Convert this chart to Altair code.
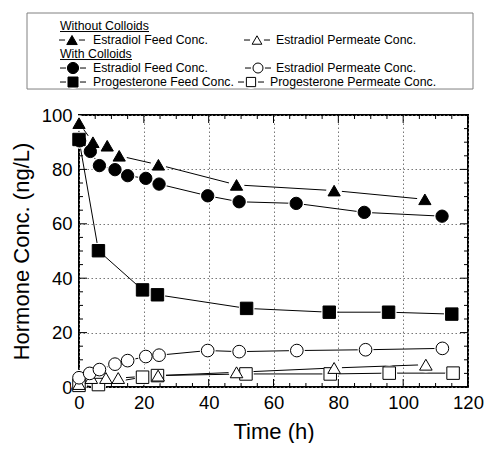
import altair as alt
import pandas as pd

# ---------------- data ----------------
# Without colloids
t_e_feed_nc = [0, 4.3, 8.7, 12.4, 24.5, 48.6, 78.7, 106.7]
e_feed_nc = [97, 90, 88.7, 85, 81.7, 74.3, 72.2, 69]
t_e_perm_nc = [0, 3.8, 8.3, 12.1, 24.4, 48.6, 78.7, 107]
e_perm_nc = [1.1, 3.3, 3.3, 3.3, 4.2, 5.4, 7.0, 8.2]
# With colloids
t_e_feed_c = [0.2, 3.5, 6.3, 11.1, 15, 20.6, 24.7, 39.7, 49.4, 67, 88, 112]
e_feed_c = [90.5, 86.6, 81.4, 79.9, 77.7, 76.7, 74.6, 70.3, 68.1, 67.5, 64.2, 62.8]
t_e_perm_c = [0, 3.3, 6.3, 11.1, 15, 20.6, 24.7, 39.7, 49.4, 67.2, 88.4, 112.1]
e_perm_c = [3.4, 5.0, 6.4, 8.4, 9.7, 11.2, 11.7, 13.4, 13.0, 13.4, 13.7, 14.2]
t_p_feed_c = [0, 6, 19.6, 24.2, 51.7, 77.2, 95.5, 115]
p_feed_c = [91, 50.1, 35.7, 33.9, 28.9, 27.5, 27.5, 26.8]
t_p_perm_c = [0, 6, 19.6, 24.2, 51.5, 77.5, 95.7, 115.4]
p_perm_c = [0.6, 0.9, 3.6, 4.2, 4.8, 4.8, 5.1, 5.1]

series_keys = ["nc_e_feed", "c_e_feed", "c_p_feed", "c_p_perm", "nc_e_perm", "c_e_perm"]
series_data = {
    "nc_e_feed": (t_e_feed_nc, e_feed_nc),
    "c_e_feed": (t_e_feed_c, e_feed_c),
    "c_p_feed": (t_p_feed_c, p_feed_c),
    "c_p_perm": (t_p_perm_c, p_perm_c),
    "nc_e_perm": (t_e_perm_nc, e_perm_nc),
    "c_e_perm": (t_e_perm_c, e_perm_c),
}
shapes = ["triangle-up", "circle", "square", "square", "triangle-up", "circle"]
fills = ["black", "black", "black", "white", "white", "white"]
sizes = [150, 160, 140, 105, 125, 125]

x_ticks_major = [0, 20, 40, 60, 80, 100, 120]
x_ticks_minor = [v for v in range(0, 121, 5) if v % 20 != 0]
y_ticks_major = [0, 20, 40, 60, 80, 100]
y_ticks_minor = [v for v in range(0, 101, 5) if v % 20 != 0]

# Legend content (layout units: x in pixels from the legend box's left edge, y in rows)
leg_headers = ["Without Colloids", "With Colloids"]
leg_header_rows = [0, 2]
leg_header_underline = [89, 72]
leg_labels = ["Estradiol Feed Conc.", "Estradiol Permeate Conc.",
              "Estradiol Feed Conc.", "Estradiol Permeate Conc.",
              "Progesterone Feed Conc.", "Progesterone Permeate Conc."]
leg_series = ["nc_e_feed", "nc_e_perm", "c_e_feed", "c_e_perm", "c_p_feed", "c_p_perm"]
leg_rows = [1, 1, 3, 3, 4, 4]
leg_marker_x = [45, 230, 46, 231, 46, 224]
leg_text_x = [66, 249, 66, 249, 66, 243]
leg_sizes = [110, 95, 125, 100, 100, 85]
LEG_BOX_W = 446
LEG_SHIFT = 52      # legend box starts this far left of the plot area (px)
LEG_GAP = 102       # legend box top sits this far above the plot top (px)
ROW_PX = 14         # legend row pitch (px)
ROW_TOP, ROW_BOT = -0.93, 4.5

FONT = "Liberation Sans"

# ---------------- tables ----------------
rows = []
for k in series_keys:
    ts, vs = series_data[k]
    for t, v in zip(ts, vs):
        rows.append({"series": k, "t": t, "c": v})
df = pd.DataFrame(rows)

W, H = 389, 272

x_enc = alt.X("t:Q", scale=alt.Scale(domain=[0, 120], nice=False, zero=False),
              axis=alt.Axis(values=x_ticks_major, title="Time (h)", tickSize=0, domain=False,
                            grid=True, gridDash=[1.5, 2.5], gridColor="#777", gridWidth=1,
                            labelPadding=6, titlePadding=10, labelFlush=False))
y_enc = alt.Y("c:Q", scale=alt.Scale(domain=[0, 100], nice=False, zero=False),
              axis=alt.Axis(values=y_ticks_major, title="Hormone Conc. (ng/L)", tickSize=0,
                            domain=False, grid=True, gridDash=[1.5, 2.5], gridColor="#777",
                            gridWidth=1, labelPadding=7, titlePadding=8, labelFlush=False))

shape_enc = alt.Shape("series:N", scale=alt.Scale(domain=series_keys, range=shapes), legend=None)
fill_enc = alt.Fill("series:N", scale=alt.Scale(domain=series_keys, range=fills), legend=None)
size_enc = alt.Size("series:N", scale=alt.Scale(domain=series_keys, range=sizes), legend=None)

lines = alt.Chart(df).mark_line(color="black", strokeWidth=1).encode(
    x=x_enc, y=y_enc, detail="series:N")
halo = alt.Chart(df).mark_point(filled=True, fill="white", shape="circle", size=250,
                                opacity=1, strokeWidth=0).encode(x=x_enc, y=y_enc)
markers = alt.Chart(df).mark_point(filled=True, stroke="black", strokeWidth=1, opacity=1).encode(
    x=x_enc, y=y_enc, shape=shape_enc, fill=fill_enc, size=size_enc)

dxM = pd.DataFrame({"t": x_ticks_major})
dxm = pd.DataFrame({"t": x_ticks_minor})
dyM = pd.DataFrame({"c": y_ticks_major})
dym = pd.DataFrame({"c": y_ticks_minor})
ML, ml = 8, 4
tick_layers = []
for d, L in ((dxM, ML), (dxm, ml)):
    tick_layers.append(alt.Chart(d).mark_rule(color="black", strokeWidth=1).encode(
        x=x_enc, y=alt.value(H), y2=alt.value(H - L)))
    tick_layers.append(alt.Chart(d).mark_rule(color="black", strokeWidth=1).encode(
        x=x_enc, y=alt.value(0), y2=alt.value(L)))
for d, L in ((dyM, ML), (dym, ml)):
    tick_layers.append(alt.Chart(d).mark_rule(color="black", strokeWidth=1).encode(
        y=y_enc, x=alt.value(0), x2=alt.value(L)))
    tick_layers.append(alt.Chart(d).mark_rule(color="black", strokeWidth=1).encode(
        y=y_enc, x=alt.value(W), x2=alt.value(W - L)))

main = alt.layer(*tick_layers, lines, halo, markers)

# ---------------- legend (own scales, placed above the plot) ----------------
leg_items = pd.DataFrame({
    "series": leg_series, "row": leg_rows, "label": leg_labels,
    "mx": leg_marker_x, "tx": leg_text_x, "msize": leg_sizes,
})
leg_items["x1"] = leg_items["mx"] - 13
leg_items["x2"] = leg_items["mx"] + 13
leg_head = pd.DataFrame({"label": leg_headers, "row": leg_header_rows,
                         "hx": [33, 33], "ux2": [33 + w for w in leg_header_underline]})
# box edges as four segments
leg_edges = pd.DataFrame({
    "ex1": [0, 0, 0, LEG_BOX_W], "ex2": [LEG_BOX_W, LEG_BOX_W, 0, LEG_BOX_W],
    "ey1": [ROW_TOP, ROW_BOT, ROW_TOP, ROW_TOP], "ey2": [ROW_TOP, ROW_BOT, ROW_BOT, ROW_BOT],
})

d0 = ROW_TOP + LEG_GAP / ROW_PX
lx_scale = alt.Scale(domain=[LEG_SHIFT, LEG_SHIFT + W], nice=False, zero=False)
ly_scale = alt.Scale(domain=[d0, d0 + H / ROW_PX], nice=False, zero=False, reverse=True)

def LX(f):
    return alt.X(f, scale=lx_scale, axis=None)

def LY(f):
    return alt.Y(f, scale=ly_scale, axis=None)

l_box = alt.Chart(leg_edges).mark_rule(color="#808080", strokeWidth=1).encode(
    x=LX("ex1:Q"), x2="ex2:Q", y=LY("ey1:Q"), y2="ey2:Q")
l_dash = alt.Chart(leg_items).mark_rule(color="black", strokeWidth=1).encode(
    x=LX("x1:Q"), x2="x2:Q", y=LY("row:Q"))
l_halo = alt.Chart(leg_items).mark_point(filled=True, fill="white", shape="circle", size=200,
                                         opacity=1, strokeWidth=0).encode(x=LX("mx:Q"), y=LY("row:Q"))
l_mark = alt.Chart(leg_items).mark_point(filled=True, stroke="black", strokeWidth=1, opacity=1).encode(
    x=LX("mx:Q"), y=LY("row:Q"), shape=shape_enc, fill=fill_enc,
    size=alt.Size("msize:Q", scale=None, legend=None))
l_text = alt.Chart(leg_items).mark_text(align="left", baseline="middle", font=FONT,
                                        fontSize=12.3, color="black").encode(
    x=LX("tx:Q"), y=LY("row:Q"), text="label:N")
l_head = alt.Chart(leg_head).mark_text(align="left", baseline="middle", font=FONT,
                                       fontSize=12.3, color="black").encode(
    x=LX("hx:Q"), y=LY("row:Q"), text="label:N")
l_under = alt.Chart(leg_head).mark_rule(color="black", strokeWidth=1, yOffset=5.5).encode(
    x=LX("hx:Q"), x2="ux2:Q", y=LY("row:Q"))

legend = alt.layer(l_box, l_dash, l_halo, l_mark, l_text, l_head, l_under)

chart = alt.layer(main, legend).resolve_scale(
    x="independent", y="independent"
).properties(
    width=W, height=H,
    padding={"left": 2, "right": 0, "top": 4, "bottom": 0},
    view=alt.ViewBackground(stroke="black", strokeWidth=2),
).configure(
    background="white"
).configure_axis(
    labelFont=FONT, titleFont=FONT, labelFontSize=18.5, titleFontSize=22,
    titleFontWeight="normal", labelColor="black", titleColor="black"
)

chart.save("out.html", embed_options={"renderer": "svg", "actions": False})
